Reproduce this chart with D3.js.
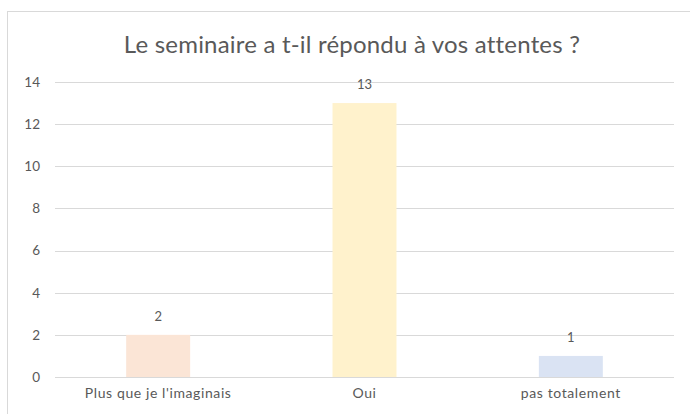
<!DOCTYPE html>
<html>
<head>
<meta charset="utf-8">
<script src="https://cdn.jsdelivr.net/npm/d3@7"></script>
<style>
  body { margin: 0; background: #fff; }
  text { font-family: Lato, "Open Sans", sans-serif; fill: #595959; }
</style>
</head>
<body>
<div id="container"></div>
<script>
// data
const categories = ["Plus que je l'imaginais", "Oui", "pas totalement"];
const counts = [2, 13, 1];
const barColors = ["#FBE5D6", "#FFF2CC", "#DAE3F3"];
const yTicks = [0, 2, 4, 6, 8, 10, 12, 14];
const title = "Le seminaire a t-il répondu à vos attentes ?";

const width = 690, height = 414,
    margin = { top: 82, bottom: 37, left: 55, right: 16 };

const svg = d3.select("#container")
    .append("svg")
    .attr("width", width)
    .attr("height", height);

// chart frame
svg.append("rect")
    .attr("x", 7.5).attr("y", 11.5)
    .attr("width", 700).attr("height", 420)
    .attr("fill", "none")
    .attr("stroke", "#d9d9d9");

svg.append("text")
    .attr("x", 352).attr("y", 53)
    .attr("text-anchor", "middle")
    .style("font-size", "24px")
    .style("letter-spacing", "0.2px")
    .text(title);

const xScale = d3.scaleBand()
    .domain(categories)
    .range([margin.left, width - margin.right])
    .paddingInner(0.69)
    .paddingOuter(0.345);

const yScale = d3.scaleLinear()
    .domain([0, 14])
    .range([height - margin.bottom, margin.top]);

// gridlines
svg.append("g")
    .selectAll("line")
    .data(yTicks)
    .join("line")
    .attr("x1", margin.left)
    .attr("x2", width - margin.right)
    .attr("y1", d => Math.round(yScale(d)) + 0.5)
    .attr("y2", d => Math.round(yScale(d)) + 0.5)
    .attr("stroke", "#d9d9d9")
    .attr("stroke-width", 1);

// y axis labels
const yAxis = d3.axisLeft(yScale).tickValues(yTicks).tickSize(0).tickPadding(0);
const yAxisGroup = svg.append("g")
    .attr("class", "y-axis")
    .attr("transform", `translate(${margin.left - 15},0)`)
    .call(yAxis);
yAxisGroup.select(".domain").remove();
yAxisGroup.selectAll("text")
    .style("font-size", "13.5px")
    .attr("fill", "#595959");

// bars
svg.selectAll(".bar")
    .data(counts)
    .join("rect")
    .attr("class", "bar")
    .attr("x", (d, i) => xScale(categories[i]))
    .attr("y", d => yScale(d))
    .attr("width", xScale.bandwidth())
    .attr("height", d => yScale(0) - yScale(d))
    .attr("fill", (d, i) => barColors[i]);

// value labels
svg.selectAll(".val")
    .data(counts)
    .join("text")
    .attr("class", "val")
    .attr("x", (d, i) => xScale(categories[i]) + xScale.bandwidth() / 2)
    .attr("y", d => yScale(d) - 14)
    .attr("text-anchor", "middle")
    .style("font-size", "13px")
    .text(d => d);

// x axis labels
const xAxis = d3.axisBottom(xScale).tickSize(0).tickPadding(0);
const xAxisGroup = svg.append("g")
    .attr("class", "x-axis")
    .attr("transform", `translate(0,${yScale(0) + 11})`)
    .call(xAxis);
xAxisGroup.select(".domain").remove();
xAxisGroup.selectAll("text")
    .style("font-size", "14px")
    .style("letter-spacing", "0.6px")
    .attr("fill", "#595959");
</script>
</body>
</html>
